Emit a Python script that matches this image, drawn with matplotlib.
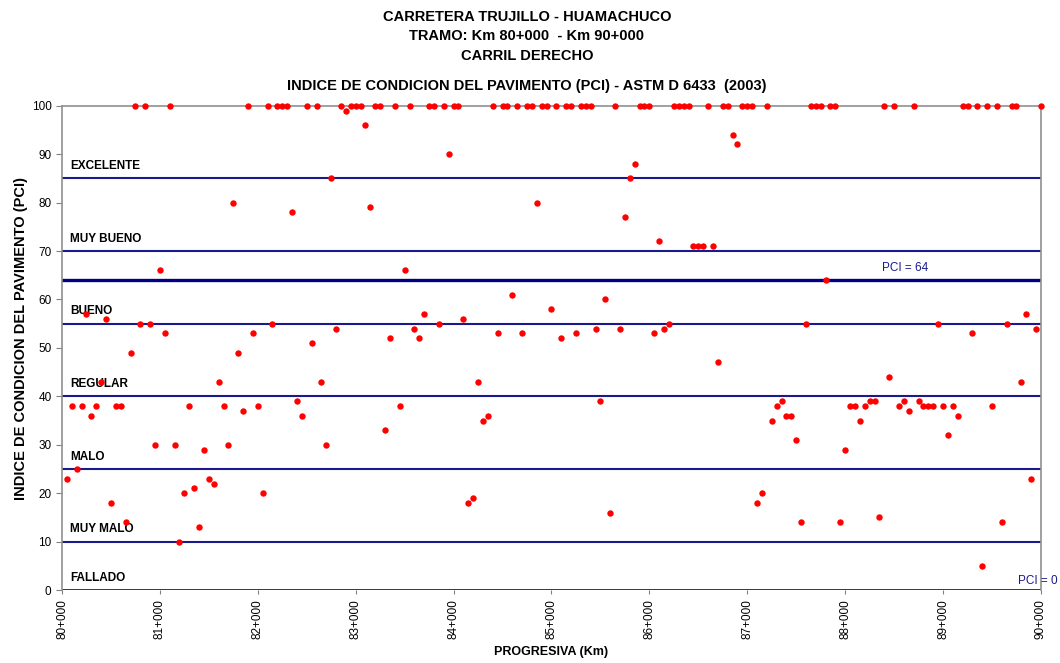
import numpy as np
import matplotlib
matplotlib.use("Agg")
import matplotlib.pyplot as plt

plt.rcParams['font.family'] = ['Liberation Sans', 'DejaVu Sans']

# estaciones cada 50 m (en metros)
estaciones = list(range(80050, 90001, 50))

# PCI por estacion, una fila por km
pci = [
    23, 38, 25, 38, 57, 36, 38, 43, 56, 18, 38, 38, 14, 49, 100, 55, 100, 55, 30, 66,
    53, 100, 30, 10, 20, 38, 21, 13, 29, 23, 22, 43, 38, 30, 80, 49, 37, 100, 53, 38,
    20, 100, 55, 100, 100, 100, 78, 39, 36, 100, 51, 100, 43, 30, 85, 54, 100, 99, 100, 100,
    100, 96, 79, 100, 100, 33, 52, 100, 38, 66, 100, 54, 52, 57, 100, 100, 55, 100, 90, 100,
    100, 56, 18, 19, 43, 35, 36, 100, 53, 100, 100, 61, 100, 53, 100, 100, 80, 100, 100, 58,
    100, 52, 100, 100, 53, 100, 100, 100, 54, 39, 60, 16, 100, 54, 77, 85, 88, 100, 100, 100,
    53, 72, 54, 55, 100, 100, 100, 100, 71, 71, 71, 100, 71, 47, 100, 100, 94, 92, 100, 100,
    100, 18, 20, 100, 35, 38, 39, 36, 36, 31, 14, 55, 100, 100, 100, 64, 100, 100, 14, 29,
    38, 38, 35, 38, 39, 39, 15, 100, 44, 100, 38, 39, 37, 100, 39, 38, 38, 38, 55, 38,
    32, 38, 36, 100, 100, 53, 100, 5, 100, 38, 100, 14, 55, 100, 100, 43, 57, 23, 54, 100,
]

# limites de clasificacion
limites = [85, 70, 55, 40, 25, 10]
clases = ["EXCELENTE", "MUY BUENO", "BUENO", "REGULAR", "MALO", "MUY MALO"]
km_ticks = [80, 81, 82, 83, 84, 85, 86, 87, 88, 89, 90]
km_labels = ["%d+000" % k for k in km_ticks]
pci_ticks = [0, 10, 20, 30, 40, 50, 60, 70, 80, 90, 100]
pci_ref = 64

navy = '#1a1a8c'

fig = plt.figure(figsize=(10.6, 6.63), dpi=100)
ax = fig.add_axes([0.0585, 0.110, 0.9235, 0.7305])

x = np.array(estaciones) / 1000.0

for lim, nombre in zip(limites, clases):
    ax.axhline(lim, color=navy, lw=1.5, zorder=2)
    ax.text(80.08, lim + 1.3, nombre, fontsize=8.5, fontweight='bold',
            color='black', va='bottom', ha='left', zorder=4)
ax.text(80.08, 1.3, "FALLADO", fontsize=8.5, fontweight='bold',
        color='black', va='bottom', ha='left', zorder=4)

ax.axhline(pci_ref, color='#000080', lw=2.4, zorder=2)
ax.text(88.38, pci_ref + 1.2, "PCI = 64", fontsize=8.5, color=navy, va='bottom', ha='left')
ax.axhline(0, color=navy, lw=2.0, zorder=2)
ax.text(89.77, 0.6, "PCI = 0", fontsize=8.5, color=navy, va='bottom', ha='left',
        clip_on=False)

ax.plot(x, pci, 'o', color='#ff0000', ms=4.6, mew=0, zorder=5, clip_on=False)

ax.set_xlim(80, 90)
ax.set_ylim(0, 100)
ax.set_xticks(km_ticks)
ax.set_xticklabels(km_labels, rotation=90, fontsize=8.5)
ax.set_yticks(pci_ticks)
ax.tick_params(axis='y', labelsize=8.5, length=4, color='#808080')
ax.tick_params(axis='x', length=3, color='#808080')

for s in ['left', 'top', 'right']:
    ax.spines[s].set_color('#909090')
    ax.spines[s].set_linewidth(1.2)
ax.spines['bottom'].set_visible(False)

ax.set_xlabel("PROGRESIVA (Km)", fontsize=9, fontweight='bold', labelpad=5)
ax.set_ylabel("INDICE DE CONDICION DEL PAVIMENTO (PCI)", fontsize=10.5,
              fontweight='bold')
ax.yaxis.set_label_coords(-0.035, 0.52)

fig.text(0.497, 0.975, "CARRETERA TRUJILLO - HUAMACHUCO", ha='center', va='center',
         fontsize=10.5, fontweight='bold')
fig.text(0.497, 0.945, "TRAMO: Km 80+000  - Km 90+000", ha='center', va='center',
         fontsize=10.5, fontweight='bold')
fig.text(0.497, 0.915, "CARRIL DERECHO", ha='center', va='center',
         fontsize=10.5, fontweight='bold')
fig.text(0.497, 0.871, "INDICE DE CONDICION DEL PAVIMENTO (PCI) - ASTM D 6433  (2003)",
         ha='center', va='center', fontsize=10.5, fontweight='bold')

fig.savefig("out.png", dpi=100)
